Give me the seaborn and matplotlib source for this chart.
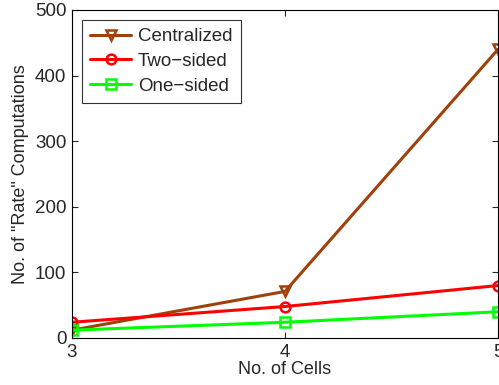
import numpy as np
import pandas as pd
import matplotlib
matplotlib.use("Agg")
import matplotlib.pyplot as plt
import seaborn as sns

cells = [3, 4, 5]
centralized = [12, 71, 440]
two_sided = [24, 48, 80]
one_sided = [12, 24, 40]

series = ["Centralized", "Two\u2212sided", "One\u2212sided"]
colors = ["#A0400A", "#FF0000", "#00FF00"]
markers = ["v", "o", "s"]

df = pd.DataFrame({
    "cells": cells * 3,
    "value": centralized + two_sided + one_sided,
    "method": [series[0]] * 3 + [series[1]] * 3 + [series[2]] * 3,
})

sns.set_style("ticks")
plt.rcParams["font.family"] = ["Liberation Sans", "DejaVu Sans"]

fig = plt.figure(figsize=(4.99, 3.85), dpi=100)
ax = fig.add_axes([72 / 499, 47 / 385, 426 / 499, 328 / 385])

for name, c, m in zip(series, colors, markers):
    sub = df[df["method"] == name]
    sns.lineplot(data=sub, x="cells", y="value", ax=ax, color=c, marker=m,
                 markersize=7, markerfacecolor="none", markeredgecolor=c,
                 markeredgewidth=1.8, linewidth=2.2, label=name)

ax.set_xlim(3, 5)
ax.set_ylim(0, 500)
ax.set_xticks(cells)
ax.set_yticks([0, 100, 200, 300, 400, 500])
ax.tick_params(direction="in", labelsize=13.5, length=4, width=0.8, pad=4)
ax.tick_params(top=True, right=True)
for s in ax.spines.values():
    s.set_visible(True)
    s.set_linewidth(0.8)
    s.set_color("black")
ax.set_xlabel("No. of Cells", fontsize=13, labelpad=0)
ax.set_ylabel('No. of "Rate" Computations', fontsize=13, labelpad=4)

leg = ax.legend(loc="upper left", fontsize=13.5, frameon=True, fancybox=False,
                edgecolor="black", handlelength=2.2, borderpad=0.45,
                labelspacing=0.4, handletextpad=0.35, borderaxespad=0,
                bbox_to_anchor=(0.023, 0.97))
leg.get_frame().set_linewidth(0.8)

fig.savefig("out.png", dpi=100)
